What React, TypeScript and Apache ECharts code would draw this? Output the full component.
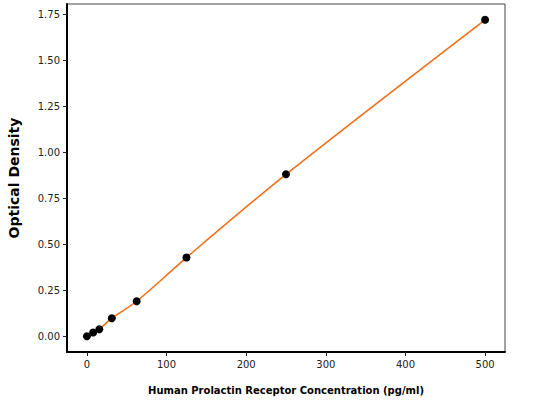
import { useEffect, useRef } from 'react'
import * as echarts from 'echarts'

// standard curve: concentration (pg/ml) vs optical density
const concentrations = [0, 7.8, 15.6, 31.25, 62.5, 125, 250, 500]
const densities      = [0.0, 0.02, 0.038, 0.098, 0.19, 0.428, 0.881, 1.722]
const xTicks = [0, 100, 200, 300, 400, 500]
const yTicks = [0, 0.25, 0.5, 0.75, 1.0, 1.25, 1.5, 1.75]

const FONT = 'DejaVu Sans'

export default function App() {
  const ref = useRef<HTMLDivElement>(null)

  useEffect(() => {
    if (!ref.current) return
    const chart = echarts.init(ref.current, undefined, { renderer: 'svg' })
    const points = concentrations.map((c, i) => [c, densities[i]])

    chart.setOption({
      animation: false,
      grid: {
        left: 67, right: 28, top: 4, bottom: 48,
        containLabel: false,
        outerBoundsMode: 'none',
        show: true, borderColor: '#444', borderWidth: 1,
      },
      xAxis: {
        type: 'value',
        min: -25, max: 525,
        name: 'Human Prolactin Receptor Concentration (pg/ml)',
        nameLocation: 'middle',
        nameGap: 33,
        nameTextStyle: { fontFamily: FONT, fontWeight: 'bold', fontSize: 10, color: '#000' },
        axisLine: { show: true, onZero: false, lineStyle: { color: '#000', width: 2 } },
        axisTick: { show: true, length: 4, customValues: xTicks, lineStyle: { color: '#222' } },
        axisLabel: {
          customValues: xTicks, fontFamily: FONT, fontSize: 10, color: '#222', margin: 7,
        },
        splitLine: { show: false },
      },
      yAxis: {
        type: 'value',
        min: -0.086, max: 1.808,
        name: 'Optical Density',
        nameLocation: 'middle',
        nameGap: 46,
        nameTextStyle: { fontFamily: FONT, fontWeight: 'bold', fontSize: 14, color: '#000' },
        axisLine: { show: true, onZero: false, lineStyle: { color: '#000', width: 2 } },
        axisTick: { show: true, length: 4, customValues: yTicks, lineStyle: { color: '#222' } },
        axisLabel: {
          customValues: yTicks, fontFamily: FONT, fontSize: 10, color: '#222', margin: 7,
          formatter: (v: number) => v.toFixed(2),
        },
        splitLine: { show: false },
      },
      series: [
        {
          type: 'line',
          data: points,
          smooth: 0.3,
          symbol: 'none',
          lineStyle: { color: '#f36c12', width: 1.5 },
          z: 2,
        },
        {
          type: 'scatter',
          data: points,
          symbol: 'circle',
          symbolSize: 8,
          itemStyle: { color: '#000', opacity: 1 },
          z: 3,
        },
      ],
    })

    return () => chart.dispose()
  }, [])

  return (
    <div
      ref={ref}
      style={{ position: 'fixed', left: 0, top: 0, width: 533, height: 400, background: '#fff' }}
    />
  )
}
